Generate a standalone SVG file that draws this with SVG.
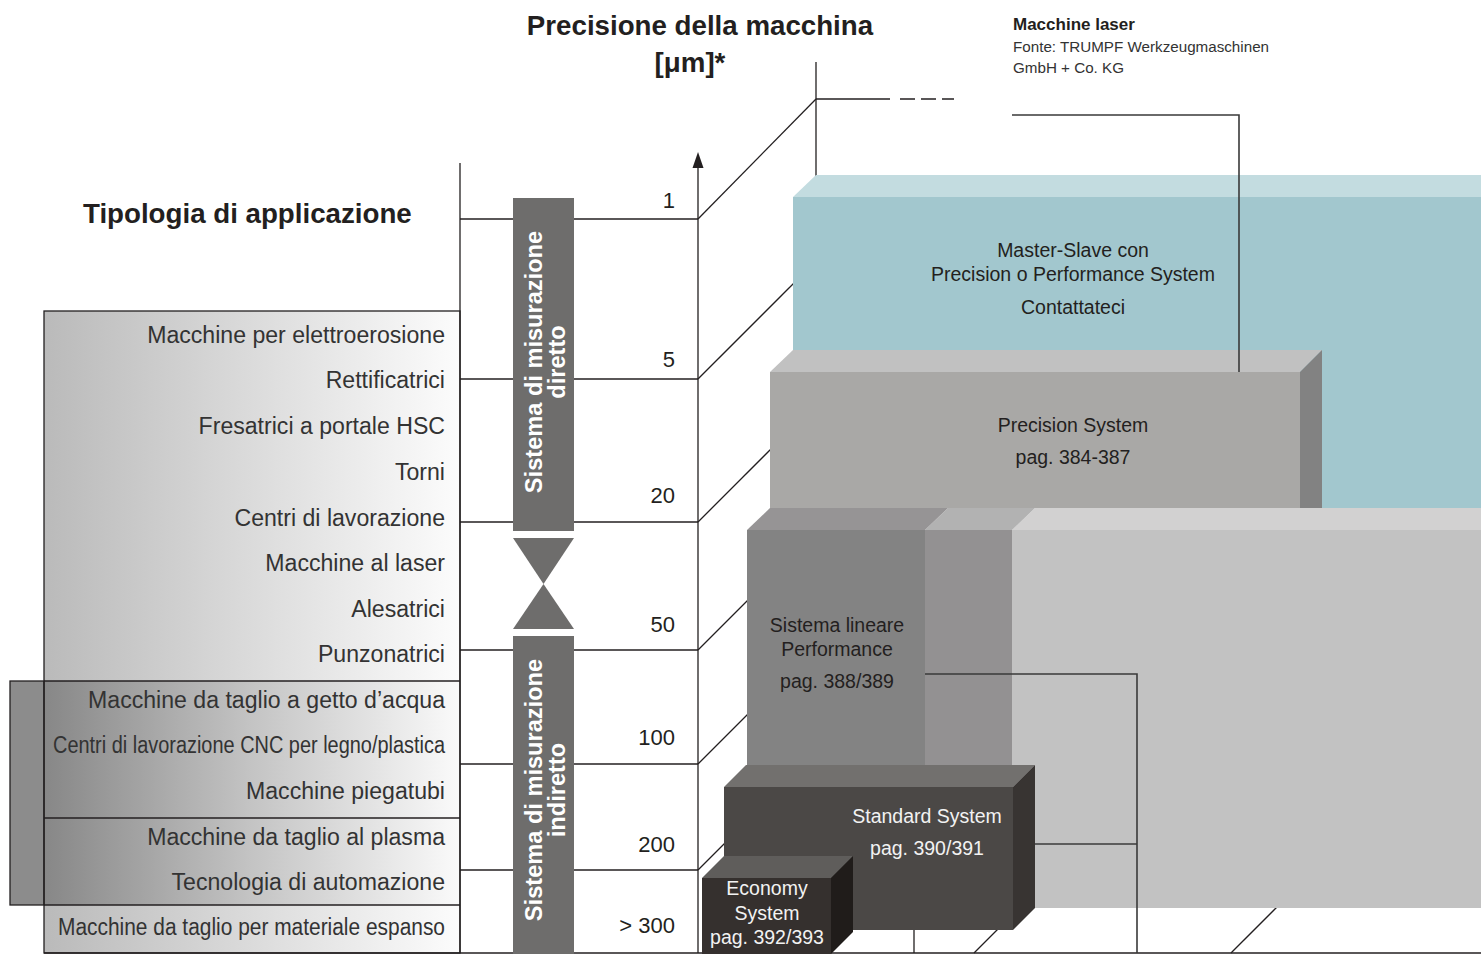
<svg xmlns="http://www.w3.org/2000/svg" width="1481" height="954" viewBox="0 0 1481 954">
<defs>
<linearGradient id="gA" x1="0" y1="0" x2="1" y2="0"><stop offset="0" stop-color="#bababa"/><stop offset="1" stop-color="#fcfcfc"/></linearGradient>
<linearGradient id="gB" x1="0" y1="0" x2="1" y2="0"><stop offset="0" stop-color="#878787"/><stop offset="0.5" stop-color="#c4c4c4"/><stop offset="1" stop-color="#fafafa"/></linearGradient>
<style>
.ln{stroke:#231f20;stroke-width:1.3;fill:none}
.cn{stroke:#3a3a3a;stroke-width:1.6;fill:none}
.lbl{font-family:"Liberation Sans",Arial,Helvetica,sans-serif;font-size:23.1px;fill:#333;text-anchor:end}
.num{font-family:"Liberation Sans",Arial,Helvetica,sans-serif;font-size:22px;fill:#231f20;text-anchor:end}
.hd{font-family:"Liberation Sans",Arial,Helvetica,sans-serif;font-size:27.7px;font-weight:bold;fill:#231f20}
.band{font-family:"Liberation Sans",Arial,Helvetica,sans-serif;font-size:23.6px;font-weight:bold;fill:#fff;text-anchor:middle}
.bx{font-family:"Liberation Sans",Arial,Helvetica,sans-serif;font-size:19.5px;fill:#231f20;text-anchor:middle}
.bxw{font-family:"Liberation Sans",Arial,Helvetica,sans-serif;font-size:19.5px;fill:#f2f2f2;text-anchor:middle}
</style>
</defs>
<rect width="1481" height="954" fill="#fff"/>

<g id="headings">
<text class="hd" x="700" y="35" text-anchor="middle">Precisione della macchina</text>
<text class="hd" x="690" y="72" text-anchor="middle">[μm]*</text>
<text class="hd" x="83" y="223">Tipologia di applicazione</text>
</g>

<g id="source-note" font-family="Liberation Sans, Arial, sans-serif" fill="#231f20">
<text x="1013" y="30" font-size="17" font-weight="bold">Macchine laser</text>
<text x="1013" y="52" font-size="15.2" fill="#333">Fonte: TRUMPF Werkzeugmaschinen</text>
<text x="1013" y="73" font-size="15.2" fill="#333">GmbH + Co. KG</text>
</g>

<g id="application-panel">
<rect x="44" y="311" width="416" height="370" fill="url(#gA)"/>
<rect x="44" y="681" width="416" height="224" fill="url(#gB)"/>
<rect x="44" y="905" width="416" height="48" fill="url(#gA)"/>
<rect x="10" y="681" width="34" height="224" fill="#8c8c8c" stroke="#231f20" stroke-width="1.3"/>
<rect x="44" y="311" width="416" height="642" class="ln"/>
<line x1="44" y1="681" x2="460" y2="681" class="ln"/>
<line x1="44" y1="818" x2="460" y2="818" class="ln"/>
<line x1="44" y1="905" x2="460" y2="905" class="ln"/>
<text class="lbl" x="445" y="343">Macchine per elettroerosione</text>
<text class="lbl" x="445" y="388">Rettificatrici</text>
<text class="lbl" x="445" y="434">Fresatrici a portale HSC</text>
<text class="lbl" x="445" y="480">Torni</text>
<text class="lbl" x="445" y="526">Centri di lavorazione</text>
<text class="lbl" x="445" y="571">Macchine al laser</text>
<text class="lbl" x="445" y="617">Alesatrici</text>
<text class="lbl" x="445" y="662">Punzonatrici</text>
<text class="lbl" x="445" y="708">Macchine da taglio a getto d’acqua</text>
<text class="lbl" x="445" y="753" textLength="392" lengthAdjust="spacingAndGlyphs">Centri di lavorazione CNC per legno/plastica</text>
<text class="lbl" x="445" y="799">Macchine piegatubi</text>
<text class="lbl" x="445" y="845">Macchine da taglio al plasma</text>
<text class="lbl" x="445" y="890">Tecnologia di automazione</text>
<text class="lbl" x="445" y="935" textLength="387" lengthAdjust="spacingAndGlyphs">Macchine da taglio per materiale espanso</text>
</g>

<g id="grid">
<line x1="460" y1="163" x2="460" y2="953" class="ln"/>
<line x1="44" y1="953" x2="1481" y2="953" class="ln"/>
<line x1="460" y1="219" x2="698" y2="219" class="ln"/>
<line x1="460" y1="379" x2="698" y2="379" class="ln"/>
<line x1="460" y1="522" x2="698" y2="522" class="ln"/>
<line x1="460" y1="650" x2="698" y2="650" class="ln"/>
<line x1="460" y1="764" x2="698" y2="764" class="ln"/>
<line x1="460" y1="870" x2="698" y2="870" class="ln"/>
<line x1="698" y1="166" x2="698" y2="953" class="ln"/>
<polygon points="698,152 692.5,168 703.5,168" fill="#231f20"/>
<line x1="698" y1="219" x2="816" y2="99" class="ln"/>
<line x1="816" y1="62" x2="816" y2="176" class="ln"/>
<line x1="816" y1="99" x2="890" y2="99" class="ln"/>
<line x1="900" y1="99" x2="954" y2="99" class="ln" stroke-dasharray="15,6"/>
<line x1="698" y1="379" x2="794" y2="283" class="ln"/>
<line x1="698" y1="522" x2="771" y2="449" class="ln"/>
<line x1="698" y1="650" x2="748" y2="600" class="ln"/>
<line x1="698" y1="764" x2="748" y2="714" class="ln"/>
<line x1="698" y1="870" x2="725" y2="843" class="ln"/>
<line x1="914" y1="928" x2="914" y2="953" class="ln"/>
<line x1="974" y1="953" x2="998" y2="929" class="ln"/>
<line x1="1231" y1="953" x2="1277" y2="907" class="ln"/>
<text class="num" x="675" y="208">1</text>
<text class="num" x="675" y="367">5</text>
<text class="num" x="675" y="503">20</text>
<text class="num" x="675" y="632">50</text>
<text class="num" x="675" y="745">100</text>
<text class="num" x="675" y="852">200</text>
<text class="num" x="675" y="933">&gt; 300</text>
</g>

<g id="direct-measurement">
<rect x="513" y="198" width="61" height="333" fill="#6e6d6c"/>
<polygon points="513,538 574,538 543.5,584" fill="#6e6d6c"/>
<text class="band" transform="translate(542,362) rotate(-90)">Sistema di misurazione</text>
<text class="band" transform="translate(565,362) rotate(-90)">diretto</text>
</g>

<g id="indirect-measurement">
<polygon points="513,629 574,629 543.5,584" fill="#6e6d6c"/>
<rect x="513" y="636" width="61" height="318" fill="#6e6d6c"/>
<text class="band" transform="translate(542,790) rotate(-90)">Sistema di misurazione</text>
<text class="band" transform="translate(565,790) rotate(-90)">indiretto</text>
</g>

<g id="master-slave">
<polygon points="793,197 816,175 1481,175 1481,197" fill="#c3dce0"/>
<rect x="793" y="197" width="688" height="311" fill="#a2c7ce"/>
<text class="bx" x="1073" y="257">Master-Slave con</text>
<text class="bx" x="1073" y="281">Precision o Performance System</text>
<text class="bx" x="1073" y="314" fill="#333">Contattateci</text>
</g>

<g id="precision-system">
<polygon points="770,372 793,350 1322,350 1300,372" fill="#c1c1c1"/>
<polygon points="1300,372 1322,350 1322,508 1300,508" fill="#828282"/>
<rect x="770" y="372" width="530" height="136" fill="#a9a8a6"/>
<text class="bx" x="1073" y="432">Precision System</text>
<text class="bx" x="1073" y="464" fill="#333">pag. 384-387</text>
</g>

<g id="back-blocks">
<polygon points="1012,530 1035,508 1481,508 1481,530" fill="#d2d1d1"/>
<rect x="1012" y="530" width="469" height="378" fill="#c2c2c2"/>
<polygon points="925,530 948,508 1035,508 1012,530" fill="#b2b2b2"/>
<rect x="925" y="530" width="87" height="300" fill="#939192"/>
</g>

<g id="performance-system">
<polygon points="747,530 770,508 948,508 925,530" fill="#969495"/>
<rect x="747" y="530" width="178" height="300" fill="#838383"/>
<text class="bx" x="837" y="632">Sistema lineare</text>
<text class="bx" x="837" y="656">Performance</text>
<text class="bx" x="837" y="688" fill="#333">pag. 388/389</text>
</g>

<g id="standard-system">
<polygon points="724,787 746,765 1035,765 1013,787" fill="#72706e"/>
<polygon points="1013,787 1035,765 1035,908 1013,930" fill="#383432"/>
<rect x="724" y="787" width="289" height="143" fill="#4b4846"/>
<text class="bxw" x="927" y="823">Standard System</text>
<text class="bxw" x="927" y="855" fill="#e6e6e6">pag. 390/391</text>
</g>

<g id="economy-system">
<polygon points="702,878 724,856 853,856 831,878" fill="#5f5d5b"/>
<polygon points="831,878 853,856 853,932 831,954" fill="#201c1a"/>
<rect x="702" y="878" width="129" height="76" fill="#35302e"/>
<text class="bxw" x="767" y="895">Economy</text>
<text class="bxw" x="767" y="920">System</text>
<text class="bxw" x="767" y="944" fill="#e6e6e6">pag. 392/393</text>
</g>

<g id="connectors">
<polyline points="1012,115 1239,115 1239,372" class="cn"/>
<polyline points="925,674 1137,674 1137,953" class="cn"/>
<line x1="1035" y1="844" x2="1137" y2="844" class="cn"/>
</g>
</svg>
